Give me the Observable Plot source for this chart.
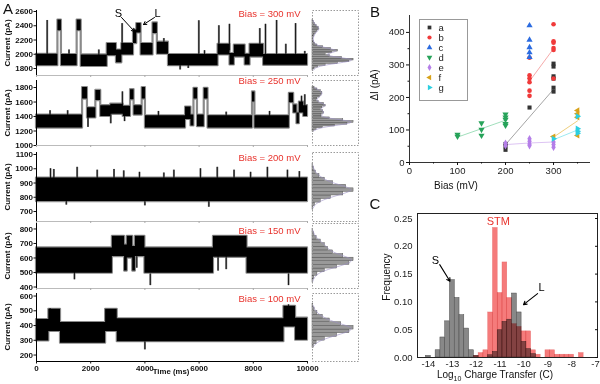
<!DOCTYPE html>
<html><head><meta charset="utf-8">
<script src="https://cdn.jsdelivr.net/npm/d3@7"></script>
<script src="https://cdn.jsdelivr.net/npm/@observablehq/plot@0.6"></script>
<style>
body{margin:0;background:#fff;}
#fig{position:relative;width:600px;height:384px;overflow:hidden;font-family:"Liberation Sans",Arial,Helvetica,sans-serif;color:#111;}
.lbl{position:absolute;white-space:nowrap;line-height:1;}
</style></head><body><div id="fig"></div>
<script>
// ---------------- DATA ----------------
const timeTicks = [0, 2000, 4000, 6000, 8000, 10000];
const biases = ["300", "250", "200", "150", "100"];

// Panel A current traces: [tStart(ms), tEnd(ms), low(pA), high(pA)]
const trace300 = [
  [0,790,1840,2000],[790,920,2330,2480],[920,1500,1840,1995],[1500,1650,2330,2480],
  [1650,2610,1830,1990],[2610,2950,1980,2150],[2950,3150,1880,2060],[3150,3580,1990,2150],
  [3580,3700,2150,2340],[3700,3860,2300,2430],[3860,4300,1990,2150],[4300,4460,2290,2440],
  [4460,4870,2000,2170],[4870,6700,1840,1995],[6700,7140,1990,2140],[7140,7300,1850,2010],
  [7300,7700,1960,2130],[7700,7880,1850,2000],[7880,8380,1960,2140],[8380,10000,1845,1995]
];
const spikes300 = [[394,1950,2474],[3160,2050,2430],[5990,1950,2470],[6730,2000,2400],[7120,2050,2420],
  [8240,2050,2360],[8450,1950,2420],[8860,1950,2474],[9560,1950,2430],[9200,1950,2140],[1200,1900,2060],[5300,1780,1900],
  [2300,1900,2060],[4700,2050,2220],[5600,1800,1950],[6200,1900,2050],[9900,1900,2040]];
const trace250 = [
  [0,1700,1240,1420],[1700,1880,1640,1800],[1880,2190,1380,1520],[2190,2370,1620,1760],
  [2370,2740,1400,1550],[2740,3200,1430,1570],[3200,3470,1400,1540],[3470,3600,1630,1770],
  [3600,3900,1420,1550],[3900,4020,1640,1800],[4020,5500,1240,1410],[5500,5700,1360,1530],
  [5700,5810,1270,1420],[5810,5940,1640,1790],[5940,6190,1260,1420],[6190,6330,1640,1790],
  [6330,7970,1240,1410],[7970,8060,1600,1740],[8060,9330,1240,1410],[9330,9490,1590,1720],
  [9490,9610,1450,1560],[9610,9700,1300,1450],[9700,9860,1450,1600],[9860,10000,1400,1550]
];
const spikes250 = [[500,1300,1480],[1150,1300,1480],[1900,1250,1450],[2740,1300,1450],[3170,1450,1740],
  [3250,1330,1450],[9780,1550,1680],[9900,1500,1700],[4500,1300,1470],[7000,1300,1460],[8600,1300,1470]];
const trace200 = [[0,10000,770,935]];
const spikes200 = [[517,850,1000],[640,850,995],[1500,850,1010],[2240,850,990],[2860,850,995],[3220,850,985],
  [5070,850,990],[6050,850,1000],[6670,850,1010],[7290,850,990],[8520,850,1010],[9260,850,990],
  [6360,730,850],[4000,740,850],[1100,745,850],[3800,850,975],[4700,850,970],[7900,850,975],[9700,850,980]];
const trace150 = [
  [0,2800,505,680],[2800,3250,620,760],[3250,3350,520,700],[3350,3550,610,760],
  [3550,3650,520,690],[3650,4000,620,760],[4000,6530,505,680],[6530,7770,615,760],[7770,10000,505,680]
];
const spikes150 = [[4200,500,420],[9300,500,420],[1400,520,460],[6700,620,520],[7000,620,530],[3700,620,540]];
const trace100 = [
  [0,455,285,430],[455,886,350,500],[886,2550,270,410],[2550,2980,350,500],
  [2980,9130,280,435],[9130,9560,380,520],[9560,10000,290,440]
];
const spikes100 = [[4000,280,225],[500,430,505],[9300,440,530]];

const ticks300 = [1800,2000,2200,2400,2600];
const ticks250 = [1000,1200,1400,1600,1800];
const ticks200 = [700,800,900,1000,1100];
const ticks150 = [400,500,600,700,800];
const ticks100 = [200,300,400,500,600];

// Side histograms: [current (pA), relative count], 25 pA bins
const hist300 = [[1775,0.02],[1800,0.05],[1825,0.14],[1850,0.32],[1875,0.62],[1900,0.9],[1925,1.0],[1950,0.72],[1975,0.42],[2000,0.32],[2025,0.48],[2050,0.62],[2075,0.45],[2100,0.26],[2125,0.12],[2150,0.06],[2175,0.03],[2200,0.02],[2225,0.02],[2250,0.03],[2275,0.05],[2300,0.08],[2325,0.12],[2350,0.16],[2375,0.15],[2400,0.1],[2425,0.06],[2450,0.03],[2475,0.01]];
const hist250 = [[1200,0.03],[1225,0.1],[1250,0.25],[1275,0.55],[1300,0.85],[1325,1.0],[1350,0.75],[1375,0.42],[1400,0.22],[1425,0.22],[1450,0.28],[1475,0.26],[1500,0.2],[1525,0.24],[1550,0.32],[1575,0.28],[1600,0.15],[1625,0.1],[1650,0.12],[1675,0.18],[1700,0.22],[1725,0.24],[1750,0.2],[1775,0.12],[1800,0.05]];
const hist200 = [[725,0.02],[750,0.06],[775,0.2],[800,0.45],[825,0.75],[850,1.0],[875,0.82],[900,0.5],[925,0.3],[950,0.17],[975,0.08],[1000,0.03],[1025,0.01]];
const hist150 = [[450,0.01],[475,0.04],[500,0.12],[525,0.3],[550,0.6],[575,0.9],[600,1.0],[625,0.75],[650,0.5],[675,0.38],[700,0.3],[725,0.2],[750,0.1],[775,0.04],[800,0.01]];
const hist100 = [[250,0.03],[275,0.1],[300,0.3],[325,0.6],[350,0.9],[375,1.0],[400,0.7],[425,0.42],[450,0.25],[475,0.12],[500,0.05],[525,0.02]];

// Panel B: [bias (mV), ΔI (pA)]
const seriesNames = ["a","b","c","d","e","f","g"];
const ptsA = [[200,39],[200,50],[200,57],[250,169],[300,304],[300,295],[300,265],[300,258],[300,230],[300,218]];
const ptsB = [[250,322],[250,268],[250,259],[250,247],[250,221],[250,205],[300,425],[300,373],[300,368],[300,352],[300,346],[300,258]];
const ptsC = [[250,421],[250,377],[250,354],[250,338],[250,324]];
const ptsD = [[100,86],[100,80],[150,121],[150,101],[150,83],[200,148],[200,139],[200,132],[200,119],[200,114]];
const ptsE = [[200,59],[200,52],[250,73],[250,65],[250,57],[250,52],[300,63],[300,55],[300,47]];
const ptsF = [[300,80],[350,160],[350,150],[350,139],[350,83]];
const ptsG = [[300,73],[350,142],[350,104],[350,96],[350,90]];
const fitA = [[200,55],[300,225]];
const fitB = [[250,250],[300,350]];
const fitD = [[100,78],[150,104],[200,130]];
const fitE = [[200,55],[250,60],[300,63]];
const fitF = [[300,78],[350,128]];
const fitG = [[300,70],[350,100]];
const biasTicks = [0,100,200,300];
const biasMinor = [50,150,250,350];
const dITicks = [0,100,200,300,400];
const dIMinor = [50,150,250,350];

// Panel C: [log10 charge bin centre, frequency]
const grayS = [[-14.0,0.003],[-13.6,0.013],[-13.4,0.036],[-13.2,0.065],[-13.0,0.139],[-12.8,0.107],[-12.6,0.076],[-12.4,0.052],[-12.2,0.013],[-12.0,0.003]];
const grayL = [[-11.4,0.004],[-11.2,0.01],[-11.0,0.049],[-10.8,0.064],[-10.6,0.068],[-10.4,0.115],[-10.2,0.081],[-10.0,0.028],[-9.8,0.015],[-9.6,0.006]];
const redSTM = [[-12.0,0.003],[-11.8,0.008],[-11.6,0.013],[-11.4,0.081],[-11.2,0.233],[-11.0,0.116],[-10.8,0.171],[-10.6,0.107],[-10.4,0.06],[-10.2,0.055],[-10.0,0.047],[-9.8,0.047],[-9.6,0.013],[-9.4,0.005],[-9.0,0.013],[-8.8,0.013],[-8.6,0.005],[-8.4,0.005],[-8.2,0.005],[-8.0,0.005],[-7.6,0.008]];
const chargeTicks = [-14,-13,-12,-11,-10,-9,-8,-7];
const freqTicks = [0,0.05,0.10,0.15,0.20,0.25];

// ---------------- LAYOUT ----------------
const fig = document.getElementById("fig");
const FONT = '"Liberation Sans", Arial, Helvetica, sans-serif';
function mount(svg, left, top) {
  svg.style.position = "absolute";
  svg.style.left = left + "px";
  svg.style.top = top + "px";
  fig.appendChild(svg);
}
function label(text, x, y, opts = {}) {
  const d = document.createElement("div");
  d.className = "lbl";
  d.innerHTML = text;
  d.style.left = x + "px";
  d.style.top = y + "px";
  d.style.fontSize = (opts.size || 10) + "px";
  d.style.fontWeight = opts.weight || "normal";
  d.style.color = opts.color || "#111";
  d.style.transform = "translate(-50%,-50%)" + (opts.rotate ? " rotate(-90deg)" : "");
  fig.appendChild(d);
}

const panelsA = [
  {trace: trace300, spikes: spikes300, hist: hist300, ticks: ticks300, bias: biases[0], top: 10, bottom: 75, domain: [1702, 2614], dy: 0, tdy: 0},
  {trace: trace250, spikes: spikes250, hist: hist250, ticks: ticks250, bias: biases[1], top: 80, bottom: 145, domain: [1000, 1897], dy: -3, tdy: 0},
  {trace: trace200, spikes: spikes200, hist: hist200, ticks: ticks200, bias: biases[2], top: 152, bottom: 221, domain: [630, 1114], dy: 2, tdy: 0},
  {trace: trace150, spikes: spikes150, hist: hist150, ticks: ticks150, bias: biases[3], top: 223, bottom: 288, domain: [400, 848], dy: 4, tdy: -1.5},
  {trace: trace100, spikes: spikes100, hist: hist100, ticks: ticks100, bias: biases[4], top: 293, bottom: 361, domain: [146, 607], dy: 2, tdy: 1.5}
];
const AX0 = 36, AX1 = 307, HX0 = 312, HX1 = 358;

panelsA.forEach((p, i) => {
  const rows = p.trace.map(s => ({t: s[0], lo: s[2], hi: s[3]}));
  const last = p.trace[p.trace.length - 1];
  rows.push({t: last[1], lo: last[2], hi: last[3]});
  const last4 = i === 4;
  const ml = 36, mr = 6, mt = 6, mb = last4 ? 22 : 4;
  const svg = Plot.plot({
    width: AX1 - AX0 + ml + mr, height: p.bottom - p.top + mt + mb,
    marginLeft: ml, marginRight: mr, marginTop: mt, marginBottom: mb,
    x: {domain: [0, 10000]},
    y: {domain: p.domain},
    style: {background: "transparent", fontFamily: FONT, fontSize: "8px", overflow: "visible", color: "#111"},
    marks: [
      Plot.ruleY([p.domain[0]], {stroke: last4 ? "#000" : "#aaa", strokeWidth: last4 ? 1 : 0.8}),
      Plot.areaY(rows, {x: "t", y1: "lo", y2: "hi", curve: "step-after", fill: "#8a8a8a", stroke: "#8a8a8a", strokeWidth: 2.2}),
      Plot.ruleX(p.spikes, {x: d => d[0], y1: d => d[1], y2: d => d[2], stroke: "#777", strokeWidth: 2}),
      Plot.areaY(rows, {x: "t", y1: "lo", y2: "hi", curve: "step-after", fill: "#000"}),
      Plot.ruleX(p.spikes, {x: d => d[0], y1: d => d[1], y2: d => d[2], stroke: "#000", strokeWidth: 0.8}),
      Plot.ruleX([0], {stroke: "#000"}),
      Plot.axisY({ticks: p.ticks, tickSize: 2.5, tickPadding: 1, tickFormat: d => String(d), label: null, fontWeight: "bold", textStroke: null, dy: p.tdy}),
      last4
        ? Plot.axisX({ticks: timeTicks, tickSize: 2.5, tickPadding: 1, tickFormat: d => String(d), label: null, fontWeight: "bold"})
        : Plot.axisX({ticks: timeTicks, tickSize: 2, tickFormat: () => "", label: null, stroke: "#aaa"}),
      Plot.text([p.bias], {text: d => `Bias = ${d} mV`, frameAnchor: "top-right", dx: -7, dy: p.dy, fill: "#e8322c", fontSize: 9.5})
    ]
  });
  mount(svg, AX0 - ml, p.top - mt);

  const hsvg = Plot.plot({
    width: HX1 - HX0, height: p.bottom - p.top,
    margin: 0,
    x: {domain: [0, 1.12], axis: null},
    y: {domain: p.domain, axis: null},
    style: {background: "transparent", overflow: "visible"},
    marks: [
      Plot.rectX(p.hist, {x1: 0, x2: d => d[1], y1: d => d[0] - 12.5, y2: d => d[0] + 12.5, fill: "#999", stroke: "#444", strokeWidth: 0.4}),
      Plot.lineX(p.hist, {x: d => d[1], y: d => d[0], stroke: "#9a8fc4", strokeWidth: 0.6, curve: "basis"}),
      Plot.frame({stroke: "#9a9a9a", strokeDasharray: "1.5,1.5"})
    ]
  });
  mount(hsvg, HX0, p.top);
  label("Current (pA)", 8, (p.top + p.bottom) / 2, {size: 8, weight: "bold", rotate: true});
});

// annotations panel A (S / L)
const annotA = [
  {text: "S", tx: 3026, ty: 2572, x1: 3137, y1: 2516, x2: 3616, y2: 2319},
  {text: "L", tx: 4465, ty: 2572, x1: 4354, y1: 2516, x2: 3948, y2: 2417}
];
{
  const p = panelsA[0], ml = 36, mr = 6, mt = 6, mb = 4;
  const svg = Plot.plot({
    width: AX1 - AX0 + ml + mr, height: p.bottom - p.top + mt + mb,
    marginLeft: ml, marginRight: mr, marginTop: mt, marginBottom: mb,
    x: {domain: [0, 10000], axis: null}, y: {domain: p.domain, axis: null},
    style: {background: "transparent", overflow: "visible", fontFamily: FONT},
    marks: [
      Plot.arrow(annotA, {x1: "x1", y1: "y1", x2: "x2", y2: "y2", stroke: "#000", strokeWidth: 1, headLength: 5}),
      Plot.text(annotA, {x: "tx", y: "ty", text: "text", fontSize: 11, fill: "#000"})
    ]
  });
  mount(svg, AX0 - ml, p.top - mt);
}
label("Time (ms)", 171, 372, {size: 7.8, weight: "bold"});
label("A", 8, 8, {size: 15});

// ---------------- PANEL B ----------------
const seriesB = [
  {name: "a", pts: ptsA, fit: fitA, color: "#333333", line: "#9a9a9a", symbol: "square", rotate: 0},
  {name: "b", pts: ptsB, fit: fitB, color: "#f03a3a", line: "#f4a0a0", symbol: "circle", rotate: 0},
  {name: "c", pts: ptsC, fit: null, color: "#2b6be0", line: null, symbol: "triangle", rotate: 0},
  {name: "d", pts: ptsD, fit: fitD, color: "#27a35a", line: "#96dbb4", symbol: "triangle", rotate: 180},
  {name: "e", pts: ptsE, fit: fitE, color: "#b47ee8", line: "#d9bdf2", symbol: "diamond", rotate: 0},
  {name: "f", pts: ptsF, fit: fitF, color: "#d8a21a", line: "#ebc86e", symbol: "triangle", rotate: -90},
  {name: "g", pts: ptsG, fit: fitG, color: "#2ccfe0", line: "#92e6ee", symbol: "triangle", rotate: 90}
];
{
  const X0 = 409, X1 = 590, Y0 = 15, Y1 = 162;
  const ml = 30, mr = 6, mt = 4, mb = 16;
  const marks = [
    Plot.ruleX([0], {stroke: "#333"}),
    Plot.ruleY([0], {stroke: "#333"}),
    Plot.axisY({ticks: dITicks, tickSize: 3, tickPadding: 2, tickFormat: d => String(d), label: null, fill: "#222"}),
    Plot.axisY({ticks: dIMinor, tickSize: 1.5, tickFormat: () => "", label: null}),
    Plot.axisX({ticks: biasTicks, tickSize: 3, tickPadding: 1.5, tickFormat: d => String(d), label: null, fill: "#222"}),
    Plot.axisX({ticks: biasMinor, tickSize: 1.5, tickFormat: () => "", label: null})
  ];
  seriesB.forEach(s => { if (s.fit) marks.push(Plot.line(s.fit, {x: d => d[0], y: d => d[1], stroke: s.line, strokeWidth: 0.9})); });
  seriesB.forEach(s => marks.push(Plot.dot(s.pts, {x: d => d[0], y: d => d[1], symbol: s.symbol, rotate: s.rotate, fill: s.color, r: 2.3})));
  const svg = Plot.plot({
    width: X1 - X0 + ml + mr, height: Y1 - Y0 + mt + mb,
    marginLeft: ml, marginRight: mr, marginTop: mt, marginBottom: mb,
    x: {domain: [0, 377]}, y: {domain: [0, 452]},
    style: {background: "transparent", fontFamily: FONT, fontSize: "9.5px", overflow: "visible"},
    marks
  });
  mount(svg, X0 - ml, Y0 - mt);

  // legend box
  const lg = Plot.plot({
    width: 47, height: 80,
    marginTop: 6, marginBottom: 11.6, marginLeft: 9, marginRight: 0,
    x: {domain: [0, 1], axis: null},
    y: {type: "point", domain: seriesNames, padding: 0, axis: null},
    style: {background: "#fff", fontFamily: FONT, fontSize: "9.5px", border: "1px solid #999", overflow: "visible"},
    marks: [
      ...seriesB.map(s => Plot.dot([s], {x: () => 0, y: "name", symbol: s.symbol, rotate: s.rotate, fill: s.color, r: 2.1})),
      Plot.text(seriesB, {x: () => 0, y: "name", text: "name", dx: 9, textAnchor: "start", fill: "#222"})
    ]
  });
  mount(lg, 419, 19);
  label("ΔI (pA)", 375, 85, {size: 10, rotate: true});
  label("Bias (mV)", 456, 186, {size: 10});
  label("B", 375, 11, {size: 15});
}

// ---------------- PANEL C ----------------
{
  const X0 = 417, X1 = 597, Y0 = 213, Y1 = 357;
  const ml = 34, mr = 3, mt = 2, mb = 14;
  const peakS = grayS.reduce((a, b) => b[1] > a[1] ? b : a);
  const peakR = redSTM.reduce((a, b) => b[1] > a[1] ? b : a);
  const peakL = grayL.reduce((a, b) => b[1] > a[1] ? b : a);
  const annotC = [
    {text: "S", tx: peakS[0] - 0.71, ty: peakS[1] + 0.035, x1: peakS[0] - 0.53, y1: peakS[1] + 0.028, x2: peakS[0] - 0.1, y2: peakS[1] - 0.002},
    {text: "L", tx: peakL[0] + 1.14, ty: peakL[1] + 0.011, x1: peakL[0] + 0.97, y1: peakL[1], x2: peakL[0] + 0.38, y2: peakL[1] - 0.02}
  ];
  const svg = Plot.plot({
    width: X1 - X0 + ml + mr, height: Y1 - Y0 + mt + mb,
    marginLeft: ml, marginRight: mr, marginTop: mt, marginBottom: mb,
    x: {domain: [-14.46, -6.92]}, y: {domain: [0, 0.259]},
    style: {background: "transparent", fontFamily: FONT, fontSize: "9.5px", overflow: "visible"},
    marks: [
      Plot.rectY(grayS, {x1: d => d[0] - 0.1, x2: d => d[0] + 0.1, y: d => d[1], fill: "#888", stroke: "#4a4a4a", strokeWidth: 0.5}),
      Plot.rectY(grayL, {x1: d => d[0] - 0.1, x2: d => d[0] + 0.1, y: d => d[1], fill: "#888", stroke: "#4a4a4a", strokeWidth: 0.5}),
      Plot.rectY(redSTM, {x1: d => d[0] - 0.1, x2: d => d[0] + 0.1, y: d => d[1], fill: "#f03c3c", fillOpacity: 0.68, stroke: "#e05050", strokeOpacity: 0.6, strokeWidth: 0.5, mixBlendMode: "multiply"}),
      Plot.frame({stroke: "#222"}),
      Plot.axisY({ticks: freqTicks, tickSize: 0, tickPadding: 5, tickFormat: d3.format(".2f"), label: null, fill: "#222"}),
      Plot.axisY({ticks: freqTicks, anchor: "right", tickSize: -3, tickFormat: () => "", label: null}),
      Plot.axisX({ticks: chargeTicks, tickSize: 0, tickPadding: 3, tickFormat: d => String(d), label: null, fill: "#222"}),
      Plot.text([peakR], {x: d => d[0], y: d => d[1], text: () => "STM", dx: 3, dy: -3, lineAnchor: "bottom", fill: "#e8322c", fontSize: 11}),
      Plot.arrow(annotC, {x1: "x1", y1: "y1", x2: "x2", y2: "y2", stroke: "#000", strokeWidth: 1.1, headLength: 5}),
      Plot.text(annotC, {x: "tx", y: "ty", text: "text", fontSize: 11, fill: "#000"})
    ]
  });
  mount(svg, X0 - ml, Y0 - mt);
  label("Frequency", 387, 277, {size: 10, rotate: true});
  label("Log<sub style='font-size:7px'>10</sub> Charge Transfer (C)", 495, 376, {size: 10});
  label("C", 375, 203, {size: 15});
}
</script></body></html>
